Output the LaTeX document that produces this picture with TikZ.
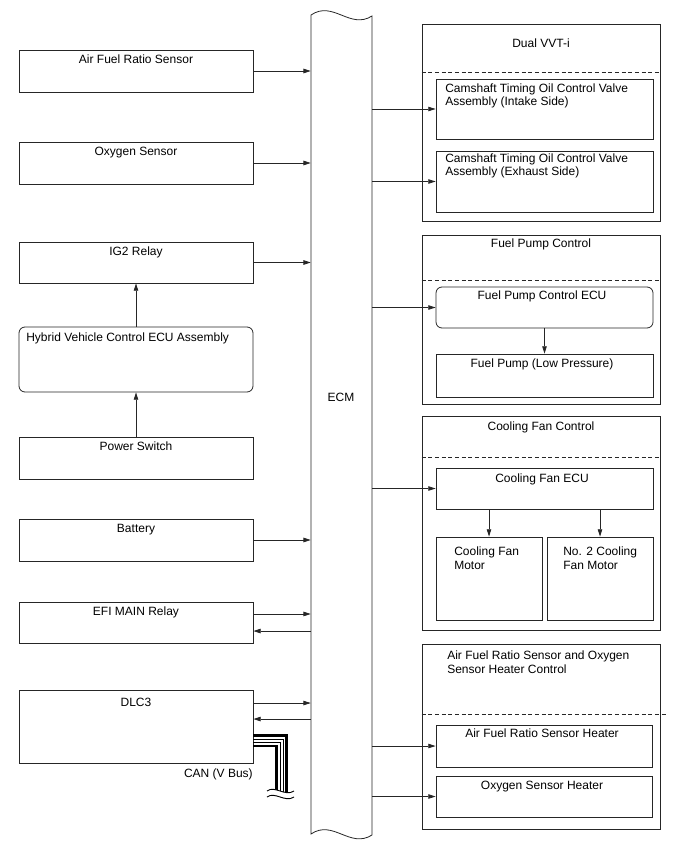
\documentclass[tikz,border=0pt]{standalone}
\usepackage{fontspec}
\setmainfont{Liberation Sans}
\usetikzlibrary{arrows.meta,fit}

\tikzset{
  blk/.style={draw=black!85,line width=0.6pt,inner sep=0pt,fit={#1}},
  rblk/.style={blk={#1},rounded corners=4.5pt},
  lbl/.style={inner sep=0pt,anchor=base,font=\fontsize{9}{10}\selectfont},
  mlbl/.style={inner sep=0pt,anchor=north west,align=left,font=\fontsize{9}{10}\selectfont},
  sep/.style={draw=black!85,line width=0.6pt,dash pattern=on 3pt off 2pt},
  link/.style={->,draw=black!85,line width=0.6pt},
}

\begin{document}
\begin{tikzpicture}[x=0.75pt,y=-0.75pt,>={Triangle[length=5.5pt,width=3.4pt]}]
\useasboundingbox (0,0) rectangle (688,852);
% ECM
\node[inner sep=0pt,fit={(311,15) (372,835)}] (ecm) {};
\draw[black!85,line width=0.6pt] (311,15) .. controls (333,0) and (350,30) .. (372,16)
  -- (372,835) .. controls (350,849) and (333,819) .. (311,834) -- cycle;
\node[lbl] (ecm-t) at (341,401.3) {ECM};
% left side
\node[blk={(19,50) (253,92)}] (afs) {};
\node[blk={(19,142) (253,184)}] (oxs) {};
\node[blk={(19,242) (253,283)}] (ig2) {};
\node[rblk={(19,327) (253,392)}] (hvecu) {};
\node[blk={(19,437) (253,479)}] (psw) {};
\node[blk={(19,519) (253,561)}] (batt) {};
\node[blk={(19,602) (253,643)}] (efi) {};
\node[blk={(19,690) (253,763)}] (dlc) {};
\node[lbl] (afs-t) at (136,63.3) {Air Fuel Ratio Sensor};
\node[lbl] (oxs-t) at (136,155.3) {Oxygen Sensor};
\node[lbl] (ig2-t) at (136,255.3) {IG2 Relay};
\node[lbl,anchor=base west] (hvecu-t) at (26,341.3) {Hybrid Vehicle Control ECU Assembly};
\node[lbl] (psw-t) at (136,450.3) {Power Switch};
\node[lbl] (batt-t) at (136,532.3) {Battery};
\node[lbl] (efi-t) at (136,615.3) {EFI MAIN Relay};
\node[lbl] (dlc-t) at (136,706.3) {DLC3};
\node[lbl,anchor=base east] (can-t) at (253,777.3) {CAN (V Bus)};
% right side
\node[blk={(422,24) (660,221)}] (vvt) {};
\node[blk={(436,79) (653,139)}] (camin) {};
\node[blk={(436,151) (653,212)}] (camex) {};
\node[blk={(422,235) (660,404)}] (fpc) {};
\node[rblk={(436,287) (653,328)}] (fpecu) {};
\node[blk={(436,354) (653,397)}] (fpump) {};
\node[blk={(422,416) (660,630)}] (cfc) {};
\node[blk={(436,468) (653,509)}] (cfecu) {};
\node[blk={(436,537) (542,620)}] (fanm1) {};
\node[blk={(547,537) (653,620)}] (fanm2) {};
\node[blk={(422,644) (660,829)}] (afh) {};
\node[blk={(436,725) (652,767)}] (afrh) {};
\node[blk={(436,776) (652,817)}] (oxh) {};
\draw[sep] (vvt.west |- 0,72) -- (vvt.east |- 0,72);
\draw[sep] (fpc.west |- 0,280) -- (fpc.east |- 0,280);
\draw[sep] (cfc.west |- 0,457) -- (cfc.east |- 0,457);
\draw[sep] (afh.west |- 0,714) -- (666,714);
\node[lbl] (vvt-t) at (541,47.3) {Dual VVT-i};
\node[mlbl] (camin-t) at (445,83.7) {Camshaft Timing Oil Control Valve\\Assembly (Intake Side)};
\node[mlbl] (camex-t) at (445,153.7) {Camshaft Timing Oil Control Valve\\Assembly (Exhaust Side)};
\node[lbl] (fpc-t) at (541,247.3) {Fuel Pump Control};
\node[lbl] (fpecu-t) at (542,299.3) {Fuel Pump Control ECU};
\node[lbl] (fpump-t) at (542,367.3) {Fuel Pump (Low Pressure)};
\node[lbl] (cfc-t) at (541,430.3) {Cooling Fan Control};
\node[lbl] (cfecu-t) at (542,482.3) {Cooling Fan ECU};
\node[mlbl] (fanm1-t) at (454,546.7) {Cooling Fan\\Motor};
\node[mlbl] (fanm2-t) at (563,546.7) {No. 2 Cooling\\Fan Motor};
\node[mlbl] (afh-t) at (447,650.7) {Air Fuel Ratio Sensor and Oxygen\\Sensor Heater Control};
\node[lbl] (afrh-t) at (542,737.3) {Air Fuel Ratio Sensor Heater};
\node[lbl] (oxh-t) at (542,789.3) {Oxygen Sensor Heater};
% inputs to ECM
\draw[link] (afs.east) -- (afs.east -| ecm.west);
\draw[link] (oxs.east) -- (oxs.east -| ecm.west);
\draw[link] (ig2.east) -- (ig2.east -| ecm.west);
\draw[link] (batt.east) -- (batt.east -| ecm.west);
\draw[link] ([yshift=6.4pt]efi.east) -- ([yshift=6.4pt]efi.east -| ecm.west);
\draw[link] ([yshift=-6.4pt]efi.east -| ecm.west) -- ([yshift=-6.4pt]efi.east);
\draw[link] ([yshift=17.6pt]dlc.east) -- ([yshift=17.6pt]dlc.east -| ecm.west);
\draw[link] ([yshift=5.6pt]dlc.east -| ecm.west) -- ([yshift=5.6pt]dlc.east);
\draw[link] (psw.north) -- (hvecu.south);
\draw[link] (hvecu.north) -- (ig2.south);
% outputs from ECM
\draw[link] (camin.west -| ecm.east) -- (camin.west);
\draw[link] (camex.west -| ecm.east) -- (camex.west);
\draw[link] (fpecu.west -| ecm.east) -- (fpecu.west);
\draw[link] (cfecu.west -| ecm.east) -- (cfecu.west);
\draw[link] (afrh.west -| ecm.east) -- (afrh.west);
\draw[link] (oxh.west -| ecm.east) -- (oxh.west);
\draw[link] (fpecu.south) -- (fpump.north);
\draw[link] (fanm1.north |- cfecu.south) -- (fanm1.north);
\draw[link] (fanm2.north |- cfecu.south) -- (fanm2.north);
% CAN bus
\coordinate (can) at (286.7,735.7);
\foreach \d/\w in {0/2pt,3.8/0.6pt,6.8/0.6pt,10.4/2pt}
  \draw[line width=\w] ([shift={(0,\d)}]dlc.east |- can) -- ([shift={(-\d,\d)}]can)
    -- ([shift={(-\d,0)}]can |- 0,795);
\fill[white] (267,791) .. controls (275,785) and (285,797) .. (294,791)
  -- (294,797) .. controls (285,803) and (275,791) .. (267,797) -- cycle;
\draw[line width=0.7pt] (267,791) .. controls (275,785) and (285,797) .. (294,791);
\draw[line width=0.7pt] (267,797) .. controls (275,791) and (285,803) .. (294,797);
\end{tikzpicture}
\end{document}
